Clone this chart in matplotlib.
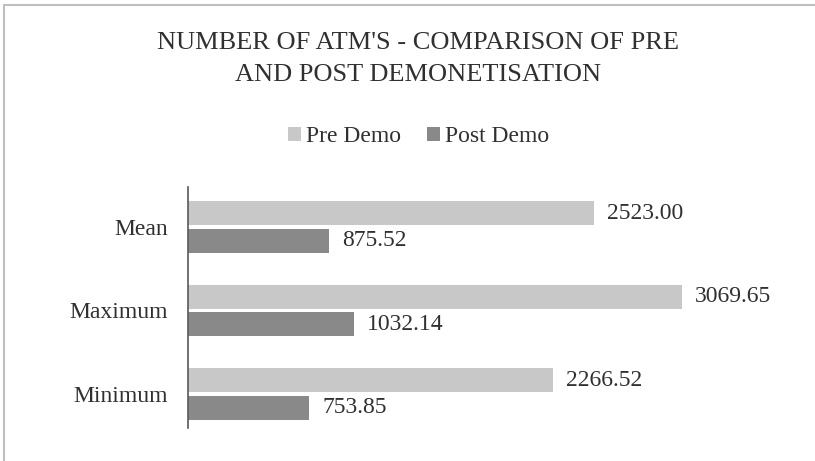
import numpy as np
import matplotlib
matplotlib.use("Agg")
import matplotlib.pyplot as plt
from matplotlib.patches import Rectangle

plt.rcParams['font.family'] = ['Liberation Serif', 'DejaVu Serif']

# data
categories = ["Minimum", "Maximum", "Mean"]
pre_demo = [2266.52, 3069.65, 2523.00]
post_demo = [753.85, 1032.14, 875.52]

pre_color = '#C8C8C8'
post_color = '#898989'
text_color = '#303030'

fig = plt.figure(figsize=(8.15, 4.61), dpi=100)
ax = fig.add_axes([0.2307, 0.0716, 0.6908, 0.5228])

y = np.arange(len(categories))
h = 0.287
ax.barh(y + 0.165, pre_demo, height=h, color=pre_color, label='Pre Demo')
ax.barh(y - 0.165, post_demo, height=h, color=post_color, label='Post Demo')

# value labels
for yi, v in zip(y, pre_demo):
    ax.annotate(f"{v:.2f}", (v, yi + 0.165), xytext=(13, 0), textcoords='offset pixels',
                va='center', ha='left', fontsize=17, color=text_color)
for yi, v in zip(y, post_demo):
    ax.annotate(f"{v:.2f}", (v, yi - 0.165), xytext=(13, 0), textcoords='offset pixels',
                va='center', ha='left', fontsize=17, color=text_color)

ax.set_xlim(0, 3500)
ax.set_ylim(-0.41, 2.48)
ax.set_yticks(y)
ax.set_yticklabels(categories, fontsize=17, color=text_color)
ax.tick_params(axis='y', length=0, pad=14.4)
ax.set_xticks([])
for s in ['top', 'right', 'bottom']:
    ax.spines[s].set_visible(False)
ax.spines['left'].set_color('#595959')
ax.spines['left'].set_linewidth(1.2)

fig.text(0.513, 0.8937, "NUMBER OF ATM'S - COMPARISON OF PRE", ha='center', va='baseline',
         fontsize=19, color=text_color)
fig.text(0.513, 0.825, "AND POST DEMONETISATION", ha='center', va='baseline',
         fontsize=19, color=text_color)

fig.legend(loc='center', bbox_to_anchor=(0.5135, 0.703), ncol=2, frameon=False,
           fontsize=17, handlelength=0.55, handleheight=0.55, handletextpad=0.2,
           columnspacing=1.1, labelcolor=text_color)

# chart border
fig.patches.append(Rectangle((4 / 815, -0.01), 1.0, 1 - 5 / 461 + 0.01, transform=fig.transFigure,
                             fill=False, edgecolor='#BFBFBF', linewidth=1.5))

fig.savefig("out.png", dpi=100)
